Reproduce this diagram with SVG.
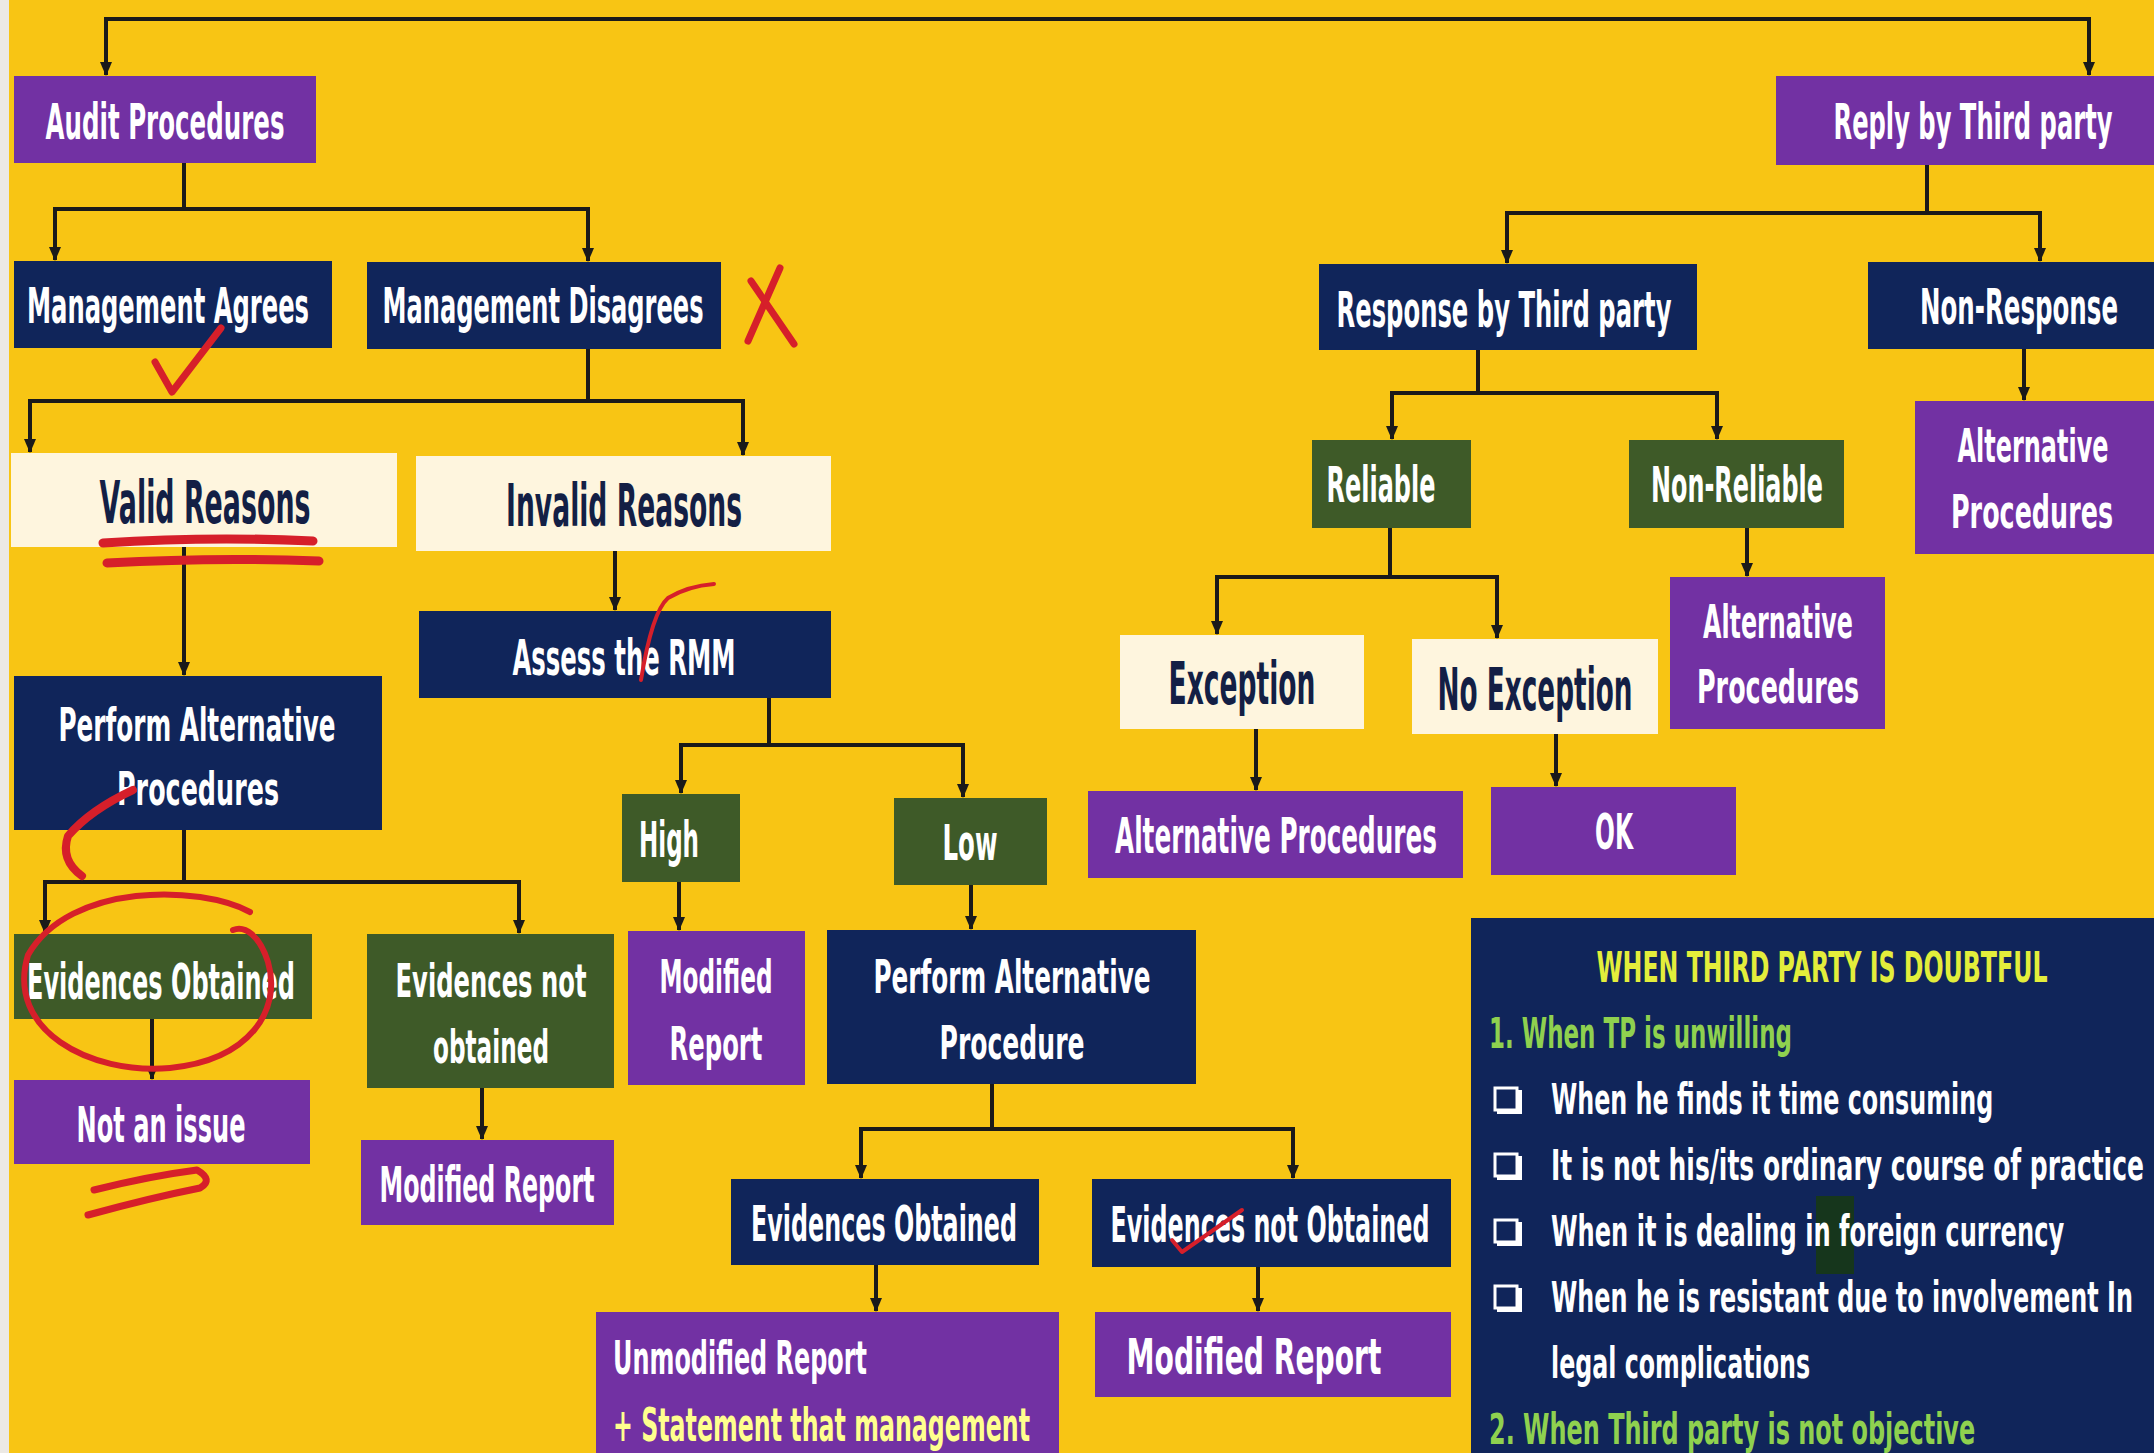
<svg xmlns="http://www.w3.org/2000/svg" width="2154" height="1453" viewBox="0 0 2154 1453">
<style>
.p{fill:#7231A3}
.n{fill:#10255A}
.g{fill:#3E5A28}
.c{fill:#FEF5DE}
.t{font-family:"DejaVu Sans","Liberation Sans",sans-serif;font-weight:bold;font-size:50px;fill:#FFFFFF;text-anchor:middle;dominant-baseline:central}
.t2{font-size:46px}
.big{font-size:58px}
.dk{fill:#131F45}
.st{text-anchor:start}
.ln{stroke:#1A1A1A;stroke-width:4;fill:none}
.red{stroke:#D61F2A;stroke-width:7;fill:none;stroke-linecap:round;stroke-linejoin:round}
.i{font-family:"DejaVu Sans","Liberation Sans",sans-serif;font-weight:bold;font-size:42px;fill:#FFFFFF;dominant-baseline:central}
.gr{fill:#8FD14F}
.bx{fill:none;stroke:#FFFFFF;stroke-width:3}
.bs{fill:none;stroke:#FFFFFF;stroke-width:4}
</style>
<defs>
<marker id="ah" markerWidth="14" markerHeight="14" refX="13" refY="7" orient="auto" markerUnits="userSpaceOnUse">
<path d="M0,1 L14,7 L0,13 z" fill="#1A1A1A"/>
</marker>
</defs>
<rect x="0" y="0" width="2154" height="1453" fill="#F8C514"/>
<rect x="0" y="0" width="9" height="1453" fill="#ECE9E4"/>

<g id="connectors" class="ln" marker-end="url(#ah)">
<path d="M1000,19 H106 V75"/>
<path d="M1000,19 H2089 V75"/>
<path d="M184,163 V209 H55 V260"/>
<path d="M184,209 H588 V261"/>
<path d="M588,349 V401 H30 V452"/>
<path d="M588,401 H743 V455"/>
<path d="M184,547 V675"/>
<path d="M615,551 V610"/>
<path d="M184,830 V882 H45 V933"/>
<path d="M184,882 H519 V933"/>
<path d="M152,1019 V1079"/>
<path d="M482,1088 V1139"/>
<path d="M769,698 V745 H681 V793"/>
<path d="M769,745 H963 V797"/>
<path d="M679,882 V930"/>
<path d="M971,885 V929"/>
<path d="M992,1084 V1129 H861 V1178"/>
<path d="M992,1129 H1293 V1178"/>
<path d="M876,1265 V1311"/>
<path d="M1258,1267 V1311"/>
<path d="M1927,165 V213 H1507 V263"/>
<path d="M1927,213 H2040 V261"/>
<path d="M2024,349 V400"/>
<path d="M1478,350 V393 H1392 V439"/>
<path d="M1478,393 H1717 V439"/>
<path d="M1390,528 V577 H1217 V634"/>
<path d="M1390,577 H1497 V638"/>
<path d="M1747,528 V576"/>
<path d="M1256,729 V790"/>
<path d="M1556,734 V786"/>
</g>

<g id="audit"><rect class="p" x="14" y="76" width="302" height="87"/><text class="t" font-size="54" transform="translate(165,121) scale(0.5,1)" textLength="478" lengthAdjust="spacingAndGlyphs">Audit Procedures</text></g>
<g id="mgmt-agrees"><rect class="n" x="14" y="261" width="318" height="87"/><text class="t" transform="translate(168,305) scale(0.5,1)" textLength="564" lengthAdjust="spacingAndGlyphs">Management Agrees</text></g>
<g id="mgmt-disagrees"><rect class="n" x="367" y="262" width="354" height="87"/><text class="t" transform="translate(543,305) scale(0.5,1)" textLength="642" lengthAdjust="spacingAndGlyphs">Management Disagrees</text></g>
<g id="valid"><rect class="c" x="11" y="453" width="386" height="94"/><text class="t big dk" transform="translate(205,503) scale(0.5,1)" textLength="422" lengthAdjust="spacingAndGlyphs">Valid Reasons</text></g>
<g id="invalid"><rect class="c" x="416" y="456" width="415" height="95"/><text class="t big dk" transform="translate(624,506) scale(0.5,1)" textLength="472" lengthAdjust="spacingAndGlyphs">Invalid Reasons</text></g>
<g id="assess"><rect class="n" x="419" y="611" width="412" height="87"/><text class="t" transform="translate(624,657) scale(0.5,1)" textLength="446" lengthAdjust="spacingAndGlyphs">Assess the RMM</text></g>
<g id="pap1"><rect class="n" x="14" y="676" width="368" height="154"/><text class="t t2" transform="translate(197,725) scale(0.5,1)" textLength="554" lengthAdjust="spacingAndGlyphs">Perform Alternative</text><text class="t t2" transform="translate(198,789) scale(0.5,1)" textLength="324" lengthAdjust="spacingAndGlyphs">Procedures</text></g>
<g id="eo1"><rect class="g" x="14" y="934" width="298" height="85"/><text class="t" transform="translate(161,981) scale(0.5,1)" textLength="536" lengthAdjust="spacingAndGlyphs">Evidences Obtained</text></g>
<g id="eno1"><rect class="g" x="367" y="934" width="247" height="154"/><text class="t t2" transform="translate(491,981) scale(0.5,1)" textLength="382" lengthAdjust="spacingAndGlyphs">Evidences not</text><text class="t t2" transform="translate(491,1047) scale(0.5,1)" textLength="232" lengthAdjust="spacingAndGlyphs">obtained</text></g>
<g id="not-issue"><rect class="p" x="14" y="1080" width="296" height="84"/><text class="t" transform="translate(161,1124) scale(0.5,1)" textLength="338" lengthAdjust="spacingAndGlyphs">Not an issue</text></g>
<g id="mr1"><rect class="p" x="361" y="1140" width="253" height="85"/><text class="t" transform="translate(487,1184) scale(0.5,1)" textLength="430" lengthAdjust="spacingAndGlyphs">Modified Report</text></g>
<g id="high"><rect class="g" x="622" y="794" width="118" height="88"/><text class="t" transform="translate(669,839) scale(0.5,1)" textLength="120" lengthAdjust="spacingAndGlyphs">High</text></g>
<g id="low"><rect class="g" x="894" y="798" width="153" height="87"/><text class="t" transform="translate(970,842) scale(0.5,1)" textLength="110" lengthAdjust="spacingAndGlyphs">Low</text></g>
<g id="mr2"><rect class="p" x="628" y="931" width="177" height="154"/><text class="t t2" transform="translate(716,977) scale(0.5,1)" textLength="226" lengthAdjust="spacingAndGlyphs">Modified</text><text class="t t2" transform="translate(716,1044) scale(0.5,1)" textLength="186" lengthAdjust="spacingAndGlyphs">Report</text></g>
<g id="pap2"><rect class="n" x="827" y="930" width="369" height="154"/><text class="t t2" transform="translate(1012,977) scale(0.5,1)" textLength="554" lengthAdjust="spacingAndGlyphs">Perform Alternative</text><text class="t t2" transform="translate(1012,1043) scale(0.5,1)" textLength="290" lengthAdjust="spacingAndGlyphs">Procedure</text></g>
<g id="eo2"><rect class="n" x="731" y="1179" width="308" height="86"/><text class="t" transform="translate(884,1223) scale(0.5,1)" textLength="532" lengthAdjust="spacingAndGlyphs">Evidences Obtained</text></g>
<g id="eno2"><rect class="n" x="1092" y="1179" width="359" height="88"/><text class="t" transform="translate(1270,1224) scale(0.5,1)" textLength="638" lengthAdjust="spacingAndGlyphs">Evidences not Obtained</text></g>
<g id="unmodified"><rect class="p" x="596" y="1312" width="463" height="145"/><text class="t t2 st" transform="translate(613,1358) scale(0.5,1)" textLength="508" lengthAdjust="spacingAndGlyphs">Unmodified Report</text><text class="t t2 st" style="fill:#FFFF8E" transform="translate(613,1425) scale(0.5,1)" textLength="834" lengthAdjust="spacingAndGlyphs">+ Statement that management</text></g>
<g id="mr3"><rect class="p" x="1095" y="1312" width="356" height="85"/><text class="t" transform="translate(1254,1356) scale(0.5,1)" textLength="510" lengthAdjust="spacingAndGlyphs">Modified Report</text></g>

<g id="reply"><rect class="p" x="1776" y="76" width="378" height="89"/><text class="t" font-size="54" transform="translate(1973,121) scale(0.5,1)" textLength="558" lengthAdjust="spacingAndGlyphs">Reply by Third party</text></g>
<g id="response"><rect class="n" x="1319" y="264" width="378" height="86"/><text class="t" transform="translate(1504,309) scale(0.5,1)" textLength="670" lengthAdjust="spacingAndGlyphs">Response by Third party</text></g>
<g id="non-response"><rect class="n" x="1868" y="262" width="286" height="87"/><text class="t" transform="translate(2019,306) scale(0.5,1)" textLength="396" lengthAdjust="spacingAndGlyphs">Non-Response</text></g>
<g id="alt-nr"><rect class="p" x="1915" y="401" width="239" height="153"/><text class="t t2" transform="translate(2033,446) scale(0.5,1)" textLength="302" lengthAdjust="spacingAndGlyphs">Alternative</text><text class="t t2" transform="translate(2032,512) scale(0.5,1)" textLength="324" lengthAdjust="spacingAndGlyphs">Procedures</text></g>
<g id="reliable"><rect class="g" x="1312" y="440" width="159" height="88"/><text class="t" transform="translate(1381,484) scale(0.5,1)" textLength="218" lengthAdjust="spacingAndGlyphs">Reliable</text></g>
<g id="non-reliable"><rect class="g" x="1629" y="440" width="215" height="88"/><text class="t" transform="translate(1737,484) scale(0.5,1)" textLength="344" lengthAdjust="spacingAndGlyphs">Non-Reliable</text></g>
<g id="alt-nrel"><rect class="p" x="1670" y="577" width="215" height="152"/><text class="t t2" transform="translate(1778,622) scale(0.5,1)" textLength="300" lengthAdjust="spacingAndGlyphs">Alternative</text><text class="t t2" transform="translate(1778,687) scale(0.5,1)" textLength="324" lengthAdjust="spacingAndGlyphs">Procedures</text></g>
<g id="exception"><rect class="c" x="1120" y="635" width="244" height="94"/><text class="t big dk" transform="translate(1242,684) scale(0.5,1)" textLength="294" lengthAdjust="spacingAndGlyphs">Exception</text></g>
<g id="no-exception"><rect class="c" x="1412" y="639" width="246" height="95"/><text class="t big dk" transform="translate(1535,690) scale(0.5,1)" textLength="390" lengthAdjust="spacingAndGlyphs">No Exception</text></g>
<g id="alt-exc"><rect class="p" x="1088" y="791" width="375" height="87"/><text class="t" transform="translate(1276,835) scale(0.5,1)" textLength="644" lengthAdjust="spacingAndGlyphs">Alternative Procedures</text></g>
<g id="ok"><rect class="p" x="1491" y="787" width="245" height="88"/><text class="t" transform="translate(1614,831) scale(0.5,1)" textLength="76" lengthAdjust="spacingAndGlyphs">OK</text></g>

<g id="doubtful">
<rect class="n" x="1471" y="918" width="690" height="540"/>
<text class="i" font-size="46" style="text-anchor:middle;fill:#E3EE3B" transform="translate(1822,968) scale(0.55,1)" textLength="820" lengthAdjust="spacingAndGlyphs">WHEN THIRD PARTY IS DOUBTFUL</text>
<text class="i gr" transform="translate(1489,1034) scale(0.55,1)" textLength="551" lengthAdjust="spacingAndGlyphs">1. When TP is unwilling</text>
<rect x="1816" y="1196" width="38" height="78" fill="#16361C"/>
<rect class="bx" x="1495" y="1088" width="22" height="22"/><path class="bs" d="M1497,1112 H1520 V1090"/>
<rect class="bx" x="1495" y="1154" width="22" height="22"/><path class="bs" d="M1497,1178 H1520 V1156"/>
<rect class="bx" x="1495" y="1220" width="22" height="22"/><path class="bs" d="M1497,1244 H1520 V1222"/>
<rect class="bx" x="1495" y="1286" width="22" height="22"/><path class="bs" d="M1497,1310 H1520 V1288"/>
<text class="i" transform="translate(1551,1100) scale(0.55,1)" textLength="804" lengthAdjust="spacingAndGlyphs">When he finds it time consuming</text>
<text class="i" transform="translate(1551,1166) scale(0.55,1)" textLength="1078" lengthAdjust="spacingAndGlyphs">It is not his/its ordinary course of practice</text>
<text class="i" transform="translate(1551,1232) scale(0.55,1)" textLength="933" lengthAdjust="spacingAndGlyphs">When it is dealing in foreign currency</text>
<text class="i" transform="translate(1551,1298) scale(0.55,1)" textLength="1058" lengthAdjust="spacingAndGlyphs">When he is resistant due to involvement In</text>
<text class="i" transform="translate(1551,1364) scale(0.55,1)" textLength="471" lengthAdjust="spacingAndGlyphs">legal complications</text>
<text class="i gr" transform="translate(1489,1430) scale(0.55,1)" textLength="884" lengthAdjust="spacingAndGlyphs">2. When Third party is not objective</text>
</g>

<g id="annotations" class="red">
<path d="M780,268 L748,341"/>
<path d="M751,281 L794,344"/>
<path d="M155,362 L172,392 L221,328"/>
<path d="M103,543 Q210,536 313,541" stroke-width="9"/>
<path d="M107,563 Q215,557 319,561" stroke-width="9"/>
<path d="M641,680 Q652,612 668,598 Q688,586 714,584" stroke-width="4"/>
<path d="M133,790 Q90,810 68,836 Q60,860 82,876" stroke-width="8"/>
<path d="M250,912 C200,885 70,882 28,955 C5,1030 90,1075 170,1068 C250,1060 282,1010 268,962 C260,936 245,925 233,930" stroke-width="6"/>
<path d="M94,1190 Q150,1176 197,1170 Q214,1180 200,1188 Q150,1198 88,1215" stroke-width="7"/>
<path d="M1172,1240 L1182,1252 L1242,1210" stroke-width="4"/>
</g>
</svg>
